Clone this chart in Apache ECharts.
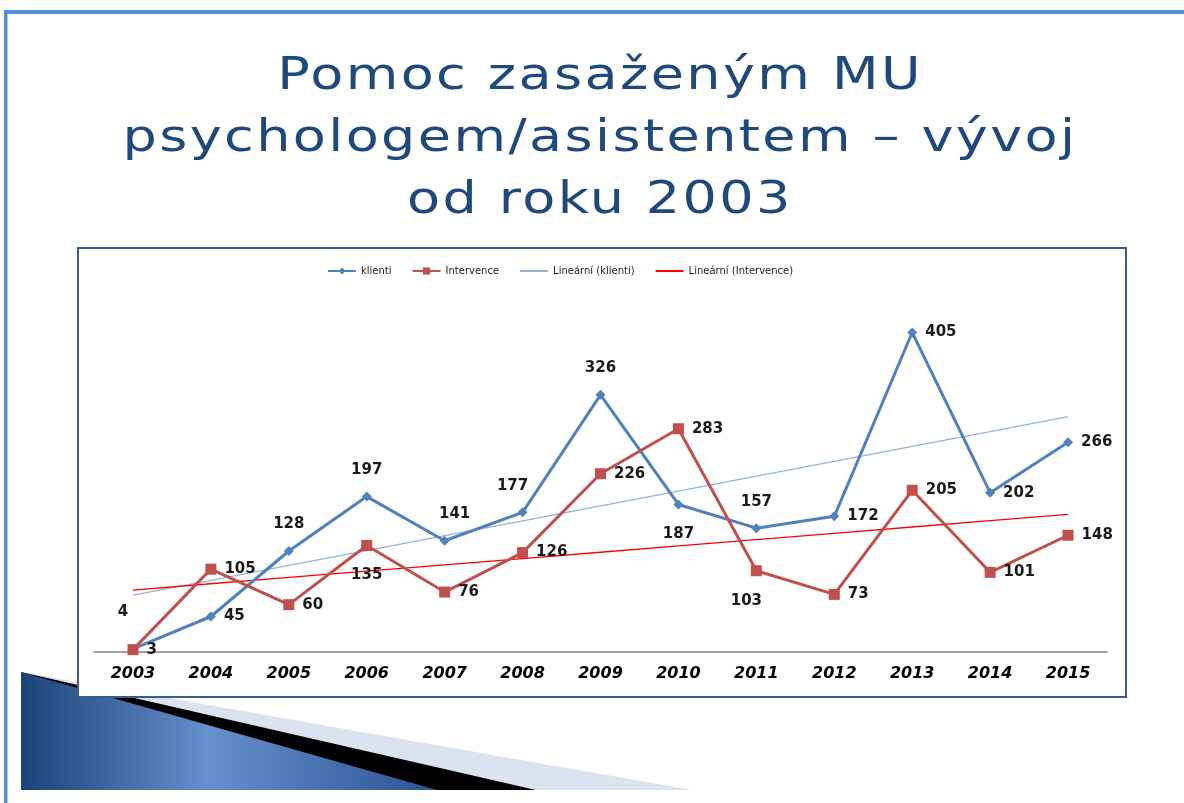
<!DOCTYPE html>
<html>
<head>
<meta charset="utf-8">
<title>Pomoc zasaženým MU</title>
<script src="https://cdn.jsdelivr.net/npm/echarts@6/dist/echarts.min.js"></script>
<style>
  html, body { margin: 0; padding: 0; background: #fff; }
  #wrap { position: relative; width: 1184px; height: 803px; overflow: hidden; }
  #chart { position: absolute; left: 0; top: 0; width: 1184px; height: 803px; }
  #title {
    position: absolute; left: 8px; top: 43px; width: 1184px;
    text-align: center; font-family: "DejaVu Sans", sans-serif;
    font-size: 45px; line-height: 62px; letter-spacing: 2px;
    transform: scaleX(1.2); transform-origin: 592px 0;
    color: #1F497D; z-index: 5;
  }
</style>
</head>
<body>
<div id="wrap">
  <div id="chart"></div>
  <div id="title">Pomoc zasaženým MU<br>psychologem/asistentem – vývoj<br>od roku 2003</div>
</div>
<script>
// data
const years = ['2003', '2004', '2005', '2006', '2007', '2008', '2009', '2010', '2011', '2012', '2013', '2014', '2015'];
const klienti = [4, 45, 128, 197, 141, 177, 326, 187, 157, 172, 405, 202, 266];
const intervence = [3, 105, 60, 135, 76, 126, 226, 283, 103, 73, 205, 101, 148];

// where each value label sits (style only)
const klientiLabelPos = ['top', 'right', 'top', 'top', 'top', 'top', 'top', 'bottom', 'top', 'right', 'right', 'right', 'right'];
const intervenceLabelPos = ['right', 'right', 'right', 'bottom', 'right', 'right', 'right', 'right', 'bottom', 'right', 'right', 'right', 'right'];

// linear trend (least squares), like Excel's "Lineární" trendline
function linearTrend(values) {
  const n = values.length;
  let sx = 0, sy = 0, sxy = 0, sxx = 0;
  values.forEach(function (v, i) {
    sx += i; sy += v; sxy += i * v; sxx += i * i;
  });
  const b = (n * sxy - sx * sy) / (n * sxx - sx * sx);
  const a = (sy - b * sx) / n;
  return values.map(function (v, i) { return +(a + b * i).toFixed(2); });
}

function labelled(values, positions, offsets) {
  return values.map(function (v, i) {
    const pos = positions[i];
    return {
      value: v,
      label: {
        position: pos,
        distance: pos === 'right' ? 8 : (pos === 'bottom' ? 17 : 14),
        offset: offsets[i] || [0, 0]
      }
    };
  });
}

const labelStyle = {
  show: true,
  fontFamily: 'DejaVu Sans',
  fontWeight: 'bold',
  fontSize: 15,
  color: '#1a1a1a'
};

const chart = echarts.init(document.getElementById('chart'));

const option = {
  animation: false,
  backgroundColor: '#fff',
  legend: {
    top: 261,
    left: 322,
    itemWidth: 28,
    itemHeight: 9,
    itemGap: 20,
    textStyle: { fontFamily: 'DejaVu Sans', fontSize: 10, color: '#222' },
    data: [
      'klienti',
      'Intervence',
      { name: 'Lineární (klienti)', itemStyle: { color: 'rgba(0,0,0,0)', opacity: 0 } },
      { name: 'Lineární (Intervence)', itemStyle: { color: 'rgba(0,0,0,0)', opacity: 0 } }
    ]
  },
  grid: { left: 94, right: 77, top: 297, bottom: 151 },
  xAxis: {
    type: 'category',
    data: years,
    boundaryGap: true,
    axisLine: { lineStyle: { color: '#868686', width: 1.5 } },
    axisTick: { show: false },
    axisLabel: {
      margin: 14,
      fontFamily: 'DejaVu Sans',
      fontWeight: 'bold',
      fontStyle: 'italic',
      fontSize: 16,
      color: '#000'
    }
  },
  yAxis: { type: 'value', min: 0, max: 450, show: false },
  graphic: [
    // slide frame
    { type: 'rect', z: -10, shape: { x: 4, y: 10, width: 1180, height: 4 }, style: { fill: '#558ED5' } },
    { type: 'rect', z: -10, shape: { x: 4, y: 10, width: 3.5, height: 793 }, style: { fill: '#558ED5' } },
    // decorative wedge bottom-left
    { type: 'polygon', z: -9, shape: { points: [[21, 672], [692, 790], [21, 790]] }, style: { fill: '#DCE3F0' } },
    { type: 'polygon', z: -8, shape: { points: [[21, 672], [536, 790], [21, 790]] }, style: { fill: '#000' } },
    {
      type: 'polygon', z: -7, shape: { points: [[21, 672], [437, 790], [21, 790]] },
      style: {
        fill: new echarts.graphic.LinearGradient(0, 0, 1, 0, [
          { offset: 0, color: '#1C4378' },
          { offset: 0.45, color: '#6690CC' },
          { offset: 1, color: '#2A5592' }
        ])
      }
    },
    // chart box
    {
      type: 'rect', z: -5,
      shape: { x: 78, y: 248, width: 1048, height: 449 },
      style: { fill: '#fff', stroke: '#3A5A94', lineWidth: 2 }
    }
  ],
  series: [
    {
      name: 'klienti',
      type: 'line',
      data: labelled(klienti, klientiLabelPos, { 0: [-10, -10], 4: [10, 0], 5: [-10, 0] }),
      symbol: 'diamond',
      symbolSize: 10,
      lineStyle: { color: '#4F81BD', width: 3 },
      itemStyle: { color: '#4F81BD' },
      label: labelStyle,
      z: 4
    },
    {
      name: 'Intervence',
      type: 'line',
      data: labelled(intervence, intervenceLabelPos, { 8: [-10, 0] }),
      symbol: 'rect',
      symbolSize: 11,
      lineStyle: { color: '#C0504D', width: 3 },
      itemStyle: { color: '#C0504D' },
      label: labelStyle,
      z: 5
    },
    {
      name: 'Lineární (klienti)',
      type: 'line',
      data: linearTrend(klienti),
      symbol: 'none',
      lineStyle: { color: '#95B3D7', width: 1.3 },
      itemStyle: { color: '#95B3D7' },
      z: 3
    },
    {
      name: 'Lineární (Intervence)',
      type: 'line',
      data: linearTrend(intervence),
      symbol: 'none',
      lineStyle: { color: '#FF0000', width: 1.3 },
      itemStyle: { color: '#FF0000' },
      z: 3
    }
  ]
};

chart.setOption(option);
</script>
</body>
</html>
